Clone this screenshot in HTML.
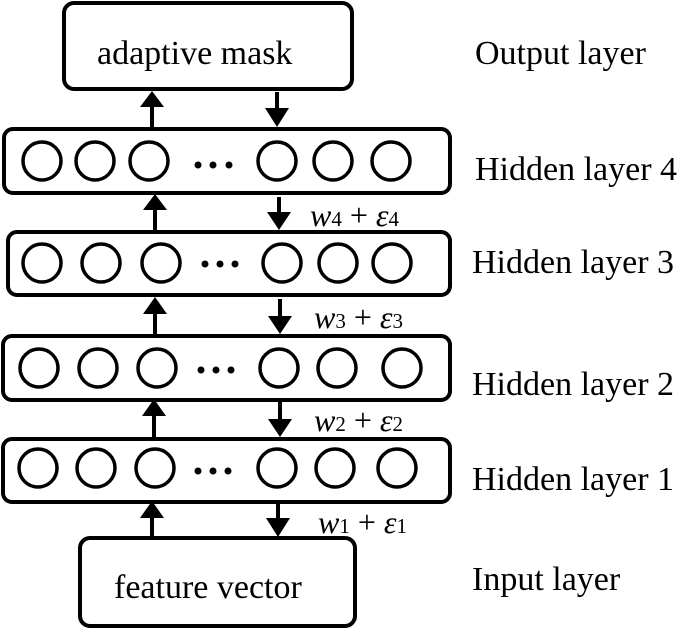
<!DOCTYPE html>
<html><head><style>
html,body{margin:0;padding:0;background:#fff;width:685px;height:630px;overflow:hidden}
svg text{font-family:"Liberation Serif",serif;fill:#000}
</style></head><body>
<svg width="685" height="630" viewBox="0 0 685 630" xmlns="http://www.w3.org/2000/svg">
<defs><marker id="a" markerWidth="6" markerHeight="6" refX="3" refY="3" orient="auto" markerUnits="userSpaceOnUse" viewBox="0 0 6 6"><path d="M0,0L6,3L0,6Z"/></marker></defs>
<g fill="none" stroke="#000" stroke-width="4">
<rect x="64" y="3" width="288" height="86" rx="10"/>
<rect x="80" y="538" width="275" height="88" rx="10"/>
<rect x="4" y="129" width="446" height="64" rx="9"/>
<rect x="8" y="232" width="442" height="63" rx="9"/>
<rect x="3" y="336" width="447" height="64" rx="9"/>
<rect x="3" y="439" width="447" height="63" rx="9"/>
<g stroke-width="3.5">
<circle cx="42" cy="161" r="19"/><circle cx="95" cy="161" r="19"/><circle cx="149" cy="161" r="19"/><circle cx="277" cy="161" r="19"/><circle cx="333" cy="161" r="19"/><circle cx="391" cy="161" r="19"/>
<circle cx="42" cy="263" r="19"/><circle cx="101" cy="263" r="19"/><circle cx="161" cy="263" r="19"/><circle cx="282" cy="263" r="19"/><circle cx="338" cy="263" r="19"/><circle cx="392" cy="263" r="19"/>
<circle cx="39" cy="368" r="19"/><circle cx="98" cy="368" r="19"/><circle cx="157" cy="368" r="19"/><circle cx="279" cy="368" r="19"/><circle cx="337" cy="368" r="19"/><circle cx="402" cy="368" r="19"/>
<circle cx="38" cy="468" r="19"/><circle cx="96" cy="468" r="19"/><circle cx="155" cy="468" r="19"/><circle cx="277" cy="468" r="19"/><circle cx="335" cy="468" r="19"/><circle cx="397" cy="468" r="19"/>
</g>
</g>
<g fill="#000">
<circle cx="198" cy="165" r="3.5"/><circle cx="213" cy="165" r="3.5"/><circle cx="229" cy="165" r="3.5"/>
<circle cx="205" cy="264" r="3.5"/><circle cx="220" cy="264" r="3.5"/><circle cx="235" cy="264" r="3.5"/>
<circle cx="201" cy="370" r="3.5"/><circle cx="216" cy="370" r="3.5"/><circle cx="231" cy="370" r="3.5"/>
<circle cx="198" cy="471" r="3.5"/><circle cx="213" cy="471" r="3.5"/><circle cx="228" cy="471" r="3.5"/>
</g>
<g stroke="#000" stroke-width="4">
<line x1="152" y1="127" x2="152" y2="105"/><line x1="277" y1="92" x2="277" y2="110"/>
<line x1="155" y1="230" x2="155" y2="208"/><line x1="279" y1="197" x2="279" y2="214"/>
<line x1="155" y1="334" x2="155" y2="312"/><line x1="280" y1="299" x2="280" y2="318"/>
<line x1="154" y1="437" x2="154" y2="414"/><line x1="280" y1="402" x2="280" y2="421"/>
<line x1="152" y1="536" x2="152" y2="516"/><line x1="278" y1="502" x2="278" y2="520"/>
</g>
<g fill="#000">
<path d="M140,107L164,107L152,91Z"/><path d="M265,108L289,108L277,127Z"/>
<path d="M143,210L167,210L155,194Z"/><path d="M267,212L291,212L279,230Z"/>
<path d="M143,314L167,314L155,297Z"/><path d="M268,316L292,316L280,334Z"/>
<path d="M142,416L166,416L154,399Z"/><path d="M268,419L292,419L280,437Z"/>
<path d="M140,518L164,518L152,501Z"/><path d="M266,518L290,518L278,537Z"/>
</g>
<g font-size="34">
<text x="97" y="64">adaptive mask</text>
<text x="114" y="598">feature vector</text>
<text x="475" y="64">Output layer</text>
<text x="475" y="180">Hidden layer 4</text>
<text x="472" y="273">Hidden layer 3</text>
<text x="472" y="395">Hidden layer 2</text>
<text x="472" y="490">Hidden layer 1</text>
<text x="472" y="590">Input layer</text>
</g>
<g font-size="32">
<text x="310" y="226"><tspan font-style="italic">w</tspan><tspan font-size="21">4</tspan> + <tspan font-style="italic">ε</tspan><tspan font-size="21">4</tspan></text>
<text x="314" y="328"><tspan font-style="italic">w</tspan><tspan font-size="21">3</tspan> + <tspan font-style="italic">ε</tspan><tspan font-size="21">3</tspan></text>
<text x="314" y="431"><tspan font-style="italic">w</tspan><tspan font-size="21">2</tspan> + <tspan font-style="italic">ε</tspan><tspan font-size="21">2</tspan></text>
<text x="318" y="533"><tspan font-style="italic">w</tspan><tspan font-size="21">1</tspan> + <tspan font-style="italic">ε</tspan><tspan font-size="21">1</tspan></text>
</g>
</svg>
</body></html>
